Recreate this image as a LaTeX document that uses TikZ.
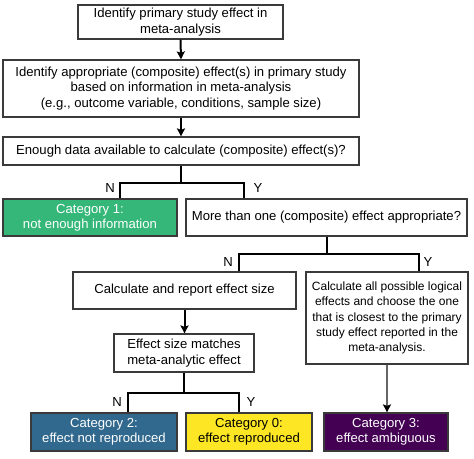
\documentclass[tikz,border=0pt]{standalone}
\usepackage{fontspec}
\setmainfont{Liberation Sans}
\usetikzlibrary{arrows.meta}
\definecolor{vgreen}{HTML}{35B779}
\definecolor{vblue}{HTML}{31688E}
\definecolor{vyellow}{HTML}{FDE725}
\definecolor{vpurple}{HTML}{440154}
\definecolor{bordergray}{HTML}{3A3A3A}
\definecolor{arrowgray}{HTML}{666666}
\tikzset{
  box/.style={draw=bordergray, line width=1.2pt, fill=white, inner sep=0pt, align=center,
    font=\fontsize{13.1}{15.3}\selectfont, text=black},
  smallbox/.style={box, font=\fontsize{12}{15.3}\selectfont},
  conn/.style={line width=2pt, black},
  arr/.style={conn, -{Stealth[length=8pt,width=8pt,inset=1.5pt]}},
  garr/.style={line width=2pt, arrowgray, -{Stealth[length=8pt,width=8pt,inset=1.5pt,color=black]}},
  yn/.style={font=\fontsize{13.1}{15}\selectfont, inner sep=0pt},
}
\begin{document}
\begin{tikzpicture}[x=1pt,y=-1pt]
\useasboundingbox (0,0) rectangle (474,458);
\node[box, minimum width=205pt, minimum height=34pt] (b1) at (180.5,22) {Identify primary study effect in\\meta-analysis};
\node[box, minimum width=356pt, minimum height=57pt] (b2) at (181,88.5) {Identify appropriate (composite) effect(s) in primary study\\based on information in meta-analysis\\(e.g., outcome variable, conditions, sample size)};
\node[box, minimum width=356pt, minimum height=28pt] (b3) at (181,151) {Enough data available to calculate (composite) effect(s)?};
\node[box, fill=vgreen, text=white, minimum width=174pt, minimum height=37pt] (c1) at (90,217.5) {Category 1:\\not enough information};
\node[box, minimum width=281pt, minimum height=37pt] (b4) at (326.5,217.5) {More than one (composite) effect appropriate?};
\node[box, minimum width=223pt, minimum height=37pt] (b5) at (184.5,290.5) {Calculate and report effect size};
\node[smallbox, minimum width=162pt, minimum height=92pt] (b6) at (387,318) {Calculate all possible logical\\effects and choose the one\\that is closest to the primary\\study effect reported in the\\meta-analysis.};
\node[box, minimum width=140pt, minimum height=38pt] (b7) at (184,353) {Effect size matches\\meta-analytic effect};
\node[box, fill=vblue, text=white, minimum width=146pt, minimum height=38pt] (c2) at (104,432) {Category 2:\\effect not reproduced};
\node[box, fill=vyellow, text=black, minimum width=126pt, minimum height=38pt] (c0) at (249,432) {Category 0:\\effect reproduced};
\node[box, fill=vpurple, text=white, minimum width=124pt, minimum height=38pt] (c3) at (386,432) {Category 3:\\effect ambiguous};

\draw[arr] (b1.south) -- (b2.north);
\draw[arr] (b2.south) -- (b3.north);

\coordinate (n1) at (120,183);
\coordinate (y1) at (244,183);
\draw[conn] (b3.south) -- (b3.south |- n1);
\draw[conn] (n1 |- c1.north) -- (n1) -- (y1) -- (y1 |- b4.north);
\node[yn] (ln1) at (110,188) {N};
\node[yn] (ly1) at (258,188) {Y};

\coordinate (n2) at (239,254);
\coordinate (y2) at (419,254);
\draw[conn] (b4.south) -- (b4.south |- n2);
\draw[conn] (n2 |- b5.north) -- (n2) -- (y2) -- (y2 |- b6.north);
\node[yn] (ln2) at (228,262) {N};
\node[yn] (ly2) at (428,262) {Y};

\draw[arr] (b5.south) -- (b5.south |- b7.north);

\coordinate (n3) at (128,393);
\coordinate (y3) at (239,393);
\draw[conn] (b7.south) -- (b7.south |- n3);
\draw[conn] (n3 |- c2.north) -- (n3) -- (y3) -- (y3 |- c0.north);
\node[yn] (ln3) at (117,402) {N};
\node[yn] (ly3) at (251,402) {Y};

\draw[garr] (b6.south) -- (b6.south |- c3.north);
\end{tikzpicture}
\end{document}
